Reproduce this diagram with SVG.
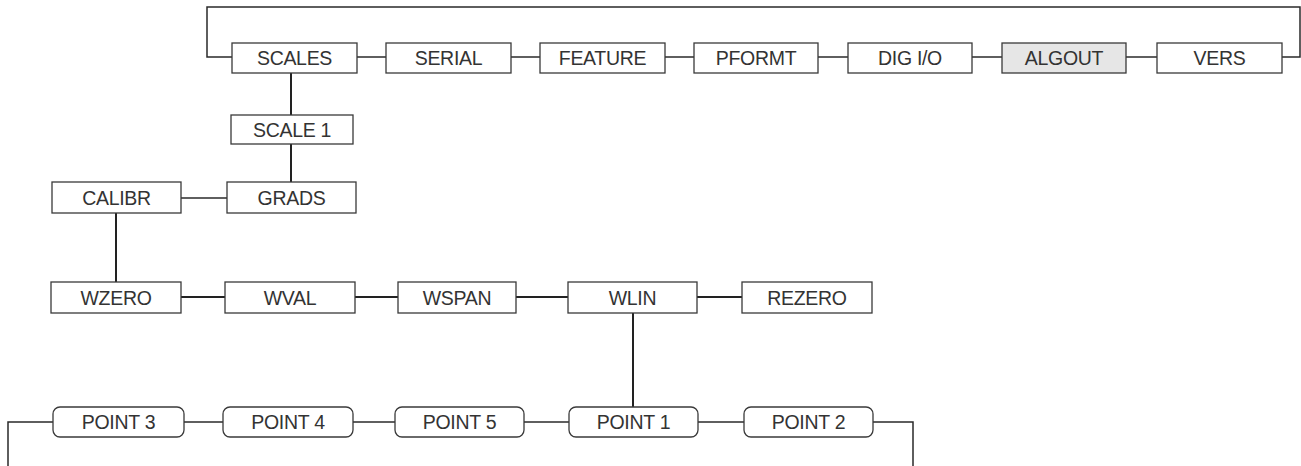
<svg xmlns="http://www.w3.org/2000/svg" width="1301" height="466" viewBox="0 0 1301 466">
<style>
.box{fill:#fff;stroke:#3a3a3a;stroke-width:1.3}
.hl{fill:#e6e6e6}
.t{font-family:"Liberation Sans",Arial,sans-serif;font-size:19.5px;fill:#333;text-anchor:middle;dominant-baseline:central;letter-spacing:-0.3px}
.c{fill:none;stroke:#2a2a2a;stroke-width:1.5}
.v{fill:none;stroke:#222;stroke-width:2}
</style>
<rect width="1301" height="466" fill="#fff"/>
<g id="connectors">
<polyline class="c" points="232,57 207,57 207,7 1300,7 1300,57 1282,57"/>
<line class="c" x1="357" y1="57" x2="386" y2="57"/>
<line class="c" x1="511" y1="57" x2="540" y2="57"/>
<line class="c" x1="665" y1="57" x2="694" y2="57"/>
<line class="c" x1="818" y1="57" x2="848" y2="57"/>
<line class="c" x1="972" y1="57" x2="1002" y2="57"/>
<line class="c" x1="1126" y1="57" x2="1157" y2="57"/>
<line class="v" x1="291" y1="73" x2="291" y2="115"/>
<line class="v" x1="291" y1="144" x2="291" y2="182"/>
<line class="c" x1="181" y1="198" x2="227" y2="198"/>
<line class="v" x1="116" y1="213" x2="116" y2="282"/>
<line class="v" x1="181" y1="297" x2="225" y2="297"/>
<line class="v" x1="355" y1="297" x2="398" y2="297"/>
<line class="v" x1="516" y1="297" x2="568" y2="297"/>
<line class="v" x1="697" y1="297" x2="742" y2="297"/>
<line class="v" x1="633" y1="313" x2="633" y2="407"/>
<line class="c" x1="184" y1="422" x2="223" y2="422"/>
<line class="c" x1="353" y1="422" x2="395" y2="422"/>
<line class="c" x1="524" y1="422" x2="569" y2="422"/>
<line class="c" x1="698" y1="422" x2="744" y2="422"/>
<polyline class="c" points="53,422 8,422 8,466"/>
<polyline class="c" points="873,422 913,422 913,466"/>
</g>
<g id="n-scales"><rect class="box" x="232" y="43" width="125" height="30"/><text class="t" x="294.5" y="58">SCALES</text></g>
<g id="n-serial"><rect class="box" x="386" y="43" width="125" height="30"/><text class="t" x="448.5" y="58">SERIAL</text></g>
<g id="n-feature"><rect class="box" x="540" y="43" width="125" height="30"/><text class="t" x="602.5" y="58">FEATURE</text></g>
<g id="n-pformt"><rect class="box" x="694" y="43" width="124" height="30"/><text class="t" x="756" y="58">PFORMT</text></g>
<g id="n-digio"><rect class="box" x="848" y="43" width="124" height="30"/><text class="t" x="910" y="58">DIG I/O</text></g>
<g id="n-algout"><rect class="box hl" x="1002" y="43" width="124" height="30"/><text class="t" x="1064" y="58">ALGOUT</text></g>
<g id="n-vers"><rect class="box" x="1157" y="43" width="125" height="30"/><text class="t" x="1219.5" y="58">VERS</text></g>
<g id="n-scale1"><rect class="box" x="231" y="115" width="122" height="29"/><text class="t" x="292" y="130">SCALE 1</text></g>
<g id="n-grads"><rect class="box" x="227" y="182" width="129" height="31"/><text class="t" x="291.5" y="198">GRADS</text></g>
<g id="n-calibr"><rect class="box" x="52" y="182" width="129" height="31"/><text class="t" x="116.5" y="198">CALIBR</text></g>
<g id="n-wzero"><rect class="box" x="51" y="282" width="130" height="31"/><text class="t" x="116" y="298">WZERO</text></g>
<g id="n-wval"><rect class="box" x="225" y="282" width="130" height="31"/><text class="t" x="290" y="298">WVAL</text></g>
<g id="n-wspan"><rect class="box" x="398" y="282" width="118" height="31"/><text class="t" x="457" y="298">WSPAN</text></g>
<g id="n-wlin"><rect class="box" x="568" y="282" width="129" height="31"/><text class="t" x="632.5" y="298">WLIN</text></g>
<g id="n-rezero"><rect class="box" x="742" y="282" width="130" height="31"/><text class="t" x="807" y="298">REZERO</text></g>
<g id="n-point3"><rect class="box" x="53" y="407" width="131" height="30" rx="7"/><text class="t" x="118.5" y="422">POINT 3</text></g>
<g id="n-point4"><rect class="box" x="223" y="407" width="130" height="30" rx="7"/><text class="t" x="288" y="422">POINT 4</text></g>
<g id="n-point5"><rect class="box" x="395" y="407" width="129" height="30" rx="7"/><text class="t" x="459.5" y="422">POINT 5</text></g>
<g id="n-point1"><rect class="box" x="569" y="407" width="129" height="30" rx="7"/><text class="t" x="633.5" y="422">POINT 1</text></g>
<g id="n-point2"><rect class="box" x="744" y="407" width="129" height="30" rx="7"/><text class="t" x="808.5" y="422">POINT 2</text></g>
</svg>
